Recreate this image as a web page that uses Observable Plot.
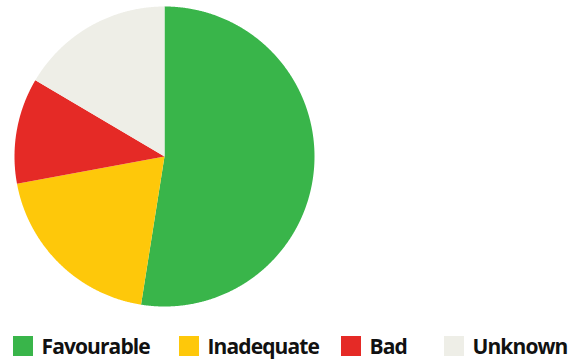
<!DOCTYPE html>
<html>
<head>
<meta charset="utf-8">
<script src="https://cdn.jsdelivr.net/npm/d3@7"></script>
<script src="https://cdn.jsdelivr.net/npm/@observablehq/plot@0.6"></script>
<style>
  html, body { margin: 0; padding: 0; background: #fff; }
  #chart { position: relative; width: 569px; height: 360px; }
  #legend { position: absolute; left: 0; top: 336px; height: 20px; width: 569px; font-family: "Open Sans", sans-serif; font-weight: 700; font-size: 21px; letter-spacing: -0.9px; color: #111; }
  .item { position: absolute; top: 0; display: flex; align-items: center; height: 20px; white-space: nowrap; }
  .sw { width: 20px; height: 20px; display: inline-block; flex: none; }
  .lab { margin-left: 8.5px; line-height: 20px; }
</style>
</head>
<body>
<div id="chart"><div id="legend"></div></div>
<script>
const categories = ["Favourable", "Inadequate", "Bad", "Unknown"];
const values = [52.5, 19.6, 11.4, 16.5];
const colors = ["#39b54a", "#fec80a", "#e52a26", "#eeeee7"];

const data = categories.map((c, i) => ({label: c, value: values[i]}));
const arcs = d3.pie().sort(null).value(d => d.value)(data);

function slicePolygon(a) {
  const pts = [[0, 0]];
  const step = Math.PI / 720;
  const n = Math.max(2, Math.ceil((a.endAngle - a.startAngle) / step));
  for (let k = 0; k <= n; k++) {
    const t = a.startAngle + (a.endAngle - a.startAngle) * k / n;
    pts.push([Math.sin(t), Math.cos(t)]);
  }
  pts.push([0, 0]);
  return {type: "Feature", properties: {label: a.data.label}, geometry: {type: "Polygon", coordinates: [pts]}};
}
const features = arcs.map(slicePolygon);
const full = {type: "Feature", geometry: {type: "Polygon", coordinates: [d3.range(0, 361).map(d => [Math.sin(d * Math.PI / 180), Math.cos(d * Math.PI / 180)])]}};

const plot = Plot.plot({
  width: 569,
  height: 307,
  marginLeft: 14,
  marginRight: 255,
  marginTop: 6,
  marginBottom: 1,
  projection: {type: "reflect-y", domain: full},
  color: {domain: categories, range: colors},
  marks: [
    Plot.geo(features, {fill: d => d.properties.label, stroke: "none"})
  ]
});
plot.style.position = "absolute";
plot.style.left = "0px";
plot.style.top = "0px";
document.getElementById("chart").prepend(plot);

const legendX = [13, 179, 341, 444];
const legend = document.getElementById("legend");
const color = plot.scale("color");
categories.forEach((c, i) => {
  const item = document.createElement("div");
  item.className = "item";
  item.style.left = legendX[i] + "px";
  const sw = document.createElement("span");
  sw.className = "sw";
  sw.style.background = color.apply(c);
  const lab = document.createElement("span");
  lab.className = "lab";
  lab.textContent = c;
  item.append(sw, lab);
  legend.append(item);
});
</script>
</body>
</html>
